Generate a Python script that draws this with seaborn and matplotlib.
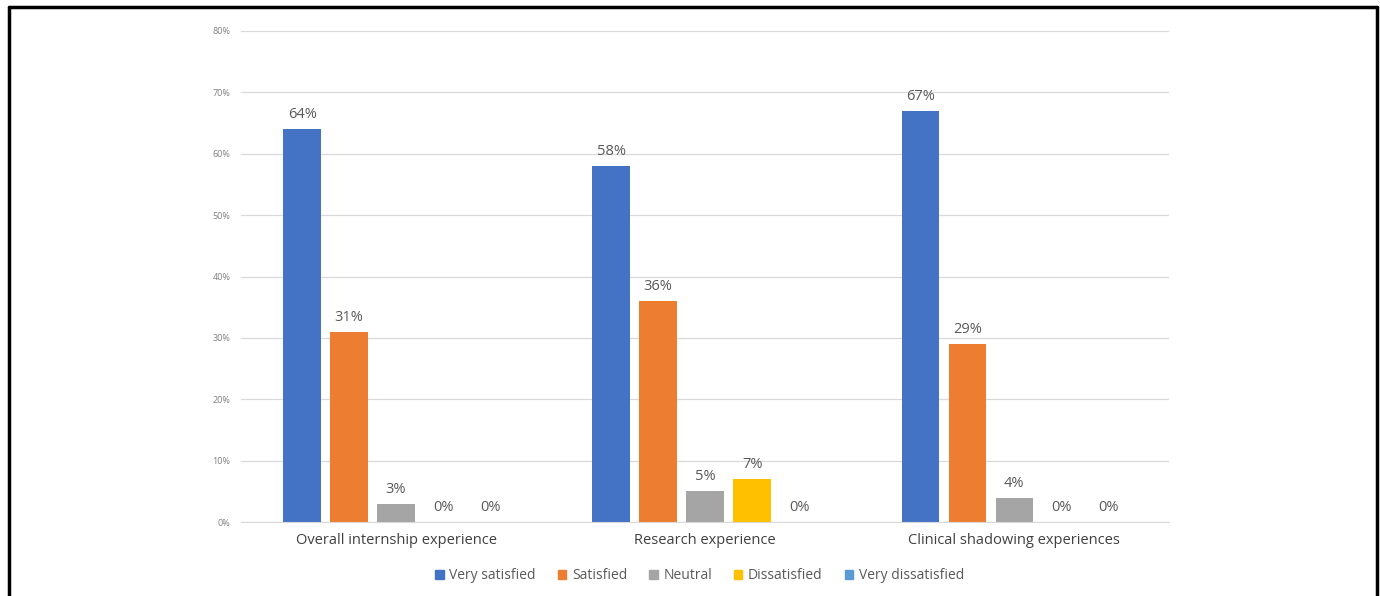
import numpy as np
import pandas as pd
import seaborn as sns
import matplotlib.pyplot as plt
from matplotlib.lines import Line2D
from matplotlib.ticker import FuncFormatter

# Data
categories = ['Overall internship experience', 'Research experience', 'Clinical shadowing experiences']
levels = ['Very satisfied', 'Satisfied', 'Neutral', 'Dissatisfied', 'Very dissatisfied']
very_satisfied = [64, 58, 67]
satisfied = [31, 36, 29]
neutral = [3, 5, 4]
dissatisfied = [0, 7, 0]
very_dissatisfied = [0, 0, 0]
colors = ['#4472C4', '#ED7D31', '#A5A5A5', '#FFC000', '#5B9BD5']

series = [very_satisfied, satisfied, neutral, dissatisfied, very_dissatisfied]
df = pd.DataFrame({
    'category': categories * len(levels),
    'level': [lv for lv in levels for _ in categories],
    'value': [v for s in series for v in s],
})

sns.set_style('white')
plt.rcParams['font.family'] = ['Open Sans', 'DejaVu Sans']

fig = plt.figure(figsize=(13.8, 5.96), dpi=100)
ax = fig.add_axes([0.175, 0.124, 0.672, 0.824])

sns.barplot(data=df, x='category', y='value', hue='level', order=categories,
            hue_order=levels, palette=colors, width=0.76, gap=0.2,
            saturation=1, linewidth=0, ax=ax, legend=False)

for cont in ax.containers:
    ax.bar_label(cont, labels=[f'{v:.0f}%' for v in cont.datavalues],
                 padding=5, fontsize=10.5, color='#595959')

ax.set_ylim(0, 80)
ax.set_yticks(range(0, 81, 10))
ax.yaxis.set_major_formatter(FuncFormatter(lambda v, p: f'{v:.0f}%'))
ax.tick_params(axis='y', labelsize=6.5, colors='#7F7F7F', length=0, pad=8)
ax.tick_params(axis='x', labelsize=10.5, colors='#404040', length=0, pad=8)
ax.grid(axis='y', color='#D9D9D9', linewidth=0.9)
ax.set_axisbelow(True)
for s in ['top', 'right', 'left']:
    ax.spines[s].set_visible(False)
ax.spines['bottom'].set_color('#D9D9D9')
ax.set_xlabel('')
ax.set_ylabel('')

handles = [plt.Rectangle((0, 0), 1, 1, color=c) for c in colors]
fig.legend(handles, levels, loc='center', bbox_to_anchor=(0.507, 0.034), ncol=5,
           frameon=False, fontsize=10, handlelength=0.6, handleheight=0.6,
           handletextpad=0.4, columnspacing=1.6, labelcolor='#595959')

# black frame around the figure (left, top, right)
fig.add_artist(Line2D([0.0065, 0.0065], [0, 0.988], color='black', lw=2.5))
fig.add_artist(Line2D([0.0065, 0.9975], [0.988, 0.988], color='black', lw=2.5))
fig.add_artist(Line2D([0.9975, 0.9975], [0, 0.988], color='black', lw=2.5))

fig.savefig('out.png', dpi=100)
